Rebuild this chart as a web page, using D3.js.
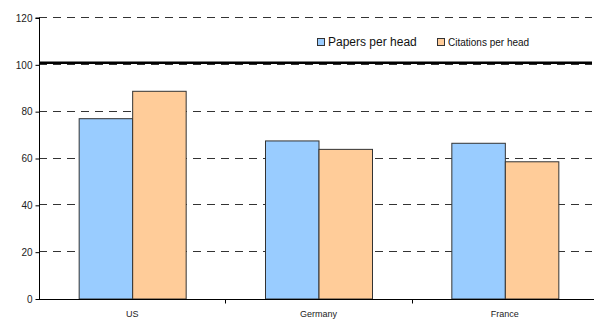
<!DOCTYPE html>
<html>
<head>
<meta charset="utf-8">
<script src="https://cdn.jsdelivr.net/npm/d3@7"></script>
<style>
  html, body { margin: 0; padding: 0; background: #fff; }
  svg { display: block; font-family: Arial, "Liberation Sans", sans-serif; }
</style>
</head>
<body>
<svg id="chart" width="594" height="321"></svg>
<script>
// Countries and the two per-head indices (world average = 100)
const countries = ["US", "Germany", "France"];
const seriesNames = ["Papers per head", "Citations per head"];
const papersPerHead = [77.0, 67.5, 66.5];
const citationsPerHead = [88.7, 63.9, 58.6];
const yTicks = [0, 20, 40, 60, 80, 100, 120];
const referenceLevel = [100.9];

const seriesValues = [papersPerHead, citationsPerHead];
const seriesColors = ["#99CCFF", "#FFCC99"];

const svg = d3.select("#chart");
const plotLeft = 39, plotTop = 18, plotBottom = 299, plotRight = 598, gridRight = 592;

const y = d3.scaleLinear().domain([0, 120]).range([plotBottom, plotTop]);
const x = d3.scaleBand().domain(countries).range([plotLeft, plotRight]).paddingInner(0).paddingOuter(0);
const barW = 53.5;
const x1 = d3.scaleBand().domain(seriesNames).range([0, barW * 2]);

// dashed horizontal gridlines
svg.append("g").selectAll("line")
  .data(yTicks.filter(d => d > 0))
  .join("line")
  .attr("x1", plotLeft).attr("x2", gridRight)
  .attr("y1", d => Math.round(y(d)) - 0.5).attr("y2", d => Math.round(y(d)) - 0.5)
  .attr("stroke", "#333").attr("stroke-width", 1.2)
  .attr("stroke-dasharray", "8,6");

// bars
const groups = svg.append("g").selectAll("g")
  .data(countries)
  .join("g")
  .attr("transform", d => `translate(${x(d) + (x.bandwidth() - barW * 2) / 2},0)`);

groups.selectAll("rect")
  .data((d, i) => seriesNames.map((s, j) => ({ s, v: seriesValues[j][i], c: seriesColors[j] })))
  .join("rect")
  .attr("x", d => x1(d.s) + 0.5)
  .attr("y", d => y(d.v))
  .attr("width", x1.bandwidth())
  .attr("height", d => plotBottom - y(d.v))
  .attr("fill", d => d.c)
  .attr("stroke", "#333")
  .attr("stroke-width", 1);

// reference line
svg.append("g").selectAll("line")
  .data(referenceLevel)
  .join("line")
  .attr("x1", plotLeft).attr("x2", gridRight)
  .attr("y1", d => y(d)).attr("y2", d => y(d))
  .attr("stroke", "#000").attr("stroke-width", 2.5);

// y axis
const yAxis = d3.axisLeft(y).tickValues(yTicks).tickSize(4).tickPadding(3).tickFormat(d3.format("d"));
const gy = svg.append("g").attr("transform", `translate(${plotLeft + 0.5},0)`).call(yAxis);
gy.select(".domain").attr("stroke", "#000").attr("d", `M-4,${y(120)}H0V${plotBottom}`);
gy.selectAll(".tick line").attr("stroke", "#000");
gy.selectAll(".tick text").attr("font-size", 10).attr("fill", "#222")
  .attr("font-family", "Arial, 'Liberation Sans', sans-serif");

// x axis
const gx = svg.append("g").attr("transform", `translate(0,${plotBottom + 0.5})`);
gx.append("line").attr("x1", plotLeft).attr("x2", 594).attr("stroke", "#000");
gx.selectAll("line.tk")
  .data(countries.slice(1))
  .join("line").attr("class", "tk")
  .attr("x1", d => Math.round(x(d)) + 0.5).attr("x2", d => Math.round(x(d)) + 0.5)
  .attr("y1", 0).attr("y2", 4).attr("stroke", "#000");
gx.selectAll("text")
  .data(countries)
  .join("text")
  .attr("x", d => x(d) + x.bandwidth() / 2)
  .attr("y", 17)
  .attr("text-anchor", "middle")
  .attr("font-size", 9).attr("fill", "#222")
  .text(d => d);

// legend
const legend = svg.append("g");
const legendItems = [
  { name: seriesNames[0], color: seriesColors[0], x: 317, size: 12 },
  { name: seriesNames[1], color: seriesColors[1], x: 437, size: 10 }
];
legendItems.forEach(it => {
  legend.append("rect")
    .attr("x", it.x + 0.5).attr("y", 38.5).attr("width", 7).attr("height", 7)
    .attr("fill", it.color).attr("stroke", "#333");
  legend.append("text")
    .attr("x", it.x + 11).attr("y", 45.5)
    .attr("font-size", it.size).attr("fill", "#111")
    .text(it.name);
});
</script>
</body>
</html>
